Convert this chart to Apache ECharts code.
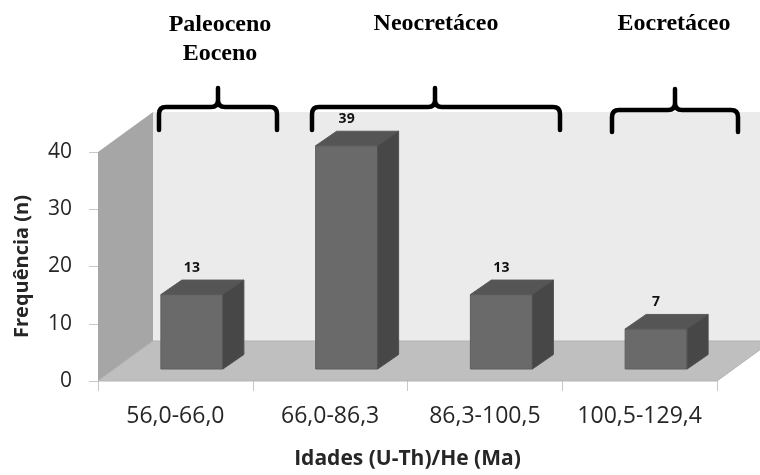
<!DOCTYPE html>
<html>
<head>
<meta charset="utf-8">
<script src="https://cdn.jsdelivr.net/npm/echarts@6/dist/echarts.min.js"></script>
<style>
html,body{margin:0;padding:0;background:#fff;}
#c{width:760px;height:475px;}
</style>
</head>
<body>
<div id="c"></div>
<script>
// ---- data ----
const categories = ['56,0-66,0', '66,0-86,3', '86,3-100,5', '100,5-129,4'];
const frequencies = [13, 39, 13, 7];
const yMin = 0, yMax = 40, yStep = 10;
const periodLabels = ['Paleoceno\nEoceno', 'Neocretáceo', 'Eocretáceo'];
const xTitle = 'Idades (U-Th)/He (Ma)';
const yTitle = 'Frequência (n)';

// ---- style constants ----
const DEPTH = [55, -40];        // full floor depth (px)
const BAR_FRONT = [16.5, -12];  // bar front face offset
const BAR_DEPTH = [21, -14.5];  // bar own depth
const BAR_W = 62;
const FONT = '"Open Sans", Lato, sans-serif';
const SERIF = '"Liberation Serif", "Times New Roman", serif';

const chart = echarts.init(document.getElementById('c'), null, {renderer: 'canvas'});

function renderBackground(params, api) {
  const p0 = api.coord([0, yMin]);
  const bw = api.size([1, 0])[0];
  const xL = p0[0] - bw / 2;
  const xR = xL + categories.length * bw;
  const yB = p0[1];
  const yT = api.coord([0, yMax])[1];
  const dx = DEPTH[0], dy = DEPTH[1];
  return {
    type: 'group',
    children: [
      { type: 'polygon', shape: { points: [[xL + dx, yT + dy], [xR + dx, yT + dy], [xR + dx, yB + dy], [xL + dx, yB + dy]] },
        style: { fill: '#ebebeb' } },
      { type: 'polygon', shape: { points: [[xL, yT], [xL + dx, yT + dy], [xL + dx, yB + dy], [xL, yB]] },
        style: { fill: '#a6a6a6' } },
      { type: 'polygon', shape: { points: [[xL, yB], [xL + dx, yB + dy], [xR + dx, yB + dy], [xR, yB]] },
        style: { fill: '#bfbfbf', stroke: '#b3b3b3', lineWidth: 1 } }
    ]
  };
}

function renderBar(params, api) {
  const idx = api.value(0);
  const val = api.value(1);
  const top = api.coord([idx, val]);
  const base = api.coord([idx, 0]);
  const cx = top[0] + BAR_FRONT[0];
  const x0 = cx - BAR_W / 2, x1 = cx + BAR_W / 2;
  const yt = top[1] + BAR_FRONT[1], yb = base[1] + BAR_FRONT[1];
  const dx = BAR_DEPTH[0], dy = BAR_DEPTH[1];
  return {
    type: 'group',
    children: [
      { type: 'rect', shape: { x: x0, y: yt, width: BAR_W, height: yb - yt },
        style: { fill: '#6a6a6a', stroke: '#5f5f5f', lineWidth: 1 } },
      { type: 'polygon', shape: { points: [[x0, yt], [x0 + dx, yt + dy], [x1 + dx, yt + dy], [x1, yt]] },
        style: { fill: '#555555', stroke: '#5a5a5a', lineWidth: 1 } },
      { type: 'polygon', shape: { points: [[x1, yt], [x1 + dx, yt + dy], [x1 + dx, yb + dy], [x1, yb]] },
        style: { fill: '#474747', stroke: '#4f4f4f', lineWidth: 1 } },
      { type: 'text', x: cx, y: yt + dy - 12.5,
        style: { text: String(val), fill: '#111', font: 'bold 14px ' + FONT, align: 'center', verticalAlign: 'middle' } }
    ]
  };
}

function bracePath(x0, x1, xm, yTop, yMid, yBot) {
  const r = 7;
  return 'M' + x0 + ' ' + yBot +
    ' L' + x0 + ' ' + (yMid + r) +
    ' Q' + x0 + ' ' + yMid + ' ' + (x0 + r) + ' ' + yMid +
    ' L' + (xm - r) + ' ' + yMid +
    ' Q' + xm + ' ' + yMid + ' ' + xm + ' ' + (yMid - r) +
    ' L' + xm + ' ' + yTop +
    ' M' + xm + ' ' + (yMid - r) +
    ' Q' + xm + ' ' + yMid + ' ' + (xm + r) + ' ' + yMid +
    ' L' + (x1 - r) + ' ' + yMid +
    ' Q' + x1 + ' ' + yMid + ' ' + x1 + ' ' + (yMid + r) +
    ' L' + x1 + ' ' + yBot;
}

const braceStyle = { stroke: '#000', lineWidth: 4.5, fill: null, lineCap: 'round', lineJoin: 'round' };

function renderAnnotations(params, api) {
  return {
    type: 'group',
    children: [
      { type: 'path', shape: { pathData: bracePath(159, 277, 218, 88, 107, 130) }, style: braceStyle },
      { type: 'path', shape: { pathData: bracePath(312, 560, 435, 88, 107, 130) }, style: braceStyle },
      { type: 'path', shape: { pathData: bracePath(612, 738, 675, 89, 110, 132) }, style: braceStyle },
      { type: 'text', x: 220, y: 39, style: { text: periodLabels[0], font: 'bold 24px ' + SERIF, fill: '#000', align: 'center', verticalAlign: 'middle', lineHeight: 29 } },
      { type: 'text', x: 436, y: 24, style: { text: periodLabels[1], font: 'bold 24px ' + SERIF, fill: '#000', align: 'center', verticalAlign: 'middle' } },
      { type: 'text', x: 674, y: 24, style: { text: periodLabels[2], font: 'bold 24px ' + SERIF, fill: '#000', align: 'center', verticalAlign: 'middle' } }
    ]
  };
}

chart.setOption({
  animation: false,
  backgroundColor: '#fff',
  grid: { left: 98, right: 43, top: 152, bottom: 94 },
  xAxis: {
    type: 'category',
    data: categories,
    axisLine: { show: false },
    axisTick: { show: true, length: 10, lineStyle: { color: '#c8c8c8', width: 1 } },
    axisLabel: { interval: 0, margin: 24, fontFamily: FONT, fontSize: 23, color: '#262626' },
    name: xTitle,
    nameLocation: 'middle',
    nameGap: 68,
    nameTextStyle: { fontFamily: FONT, fontSize: 21, fontWeight: 'bold', color: '#262626' }
  },
  yAxis: {
    type: 'value',
    min: yMin, max: yMax, interval: yStep,
    axisLine: { show: false },
    axisTick: { show: true, length: 9, lineStyle: { color: '#c8c8c8', width: 1 } },
    splitLine: { show: false },
    axisLabel: { margin: 26, fontFamily: FONT, fontSize: 21, color: '#262626' },
    name: yTitle,
    nameLocation: 'middle',
    nameGap: 66,
    nameTextStyle: { fontFamily: FONT, fontSize: 20, fontWeight: 'bold', color: '#262626' }
  },
  series: [
    { type: 'custom', z: 1, renderItem: renderBackground, data: [[0, 0]], silent: true },
    { type: 'custom', z: 2, renderItem: renderBar, data: frequencies.map((v, i) => [i, v]) },
    { type: 'custom', z: 10, renderItem: renderAnnotations, data: [[0, 0]], silent: true }
  ]
});
</script>
</body>
</html>
